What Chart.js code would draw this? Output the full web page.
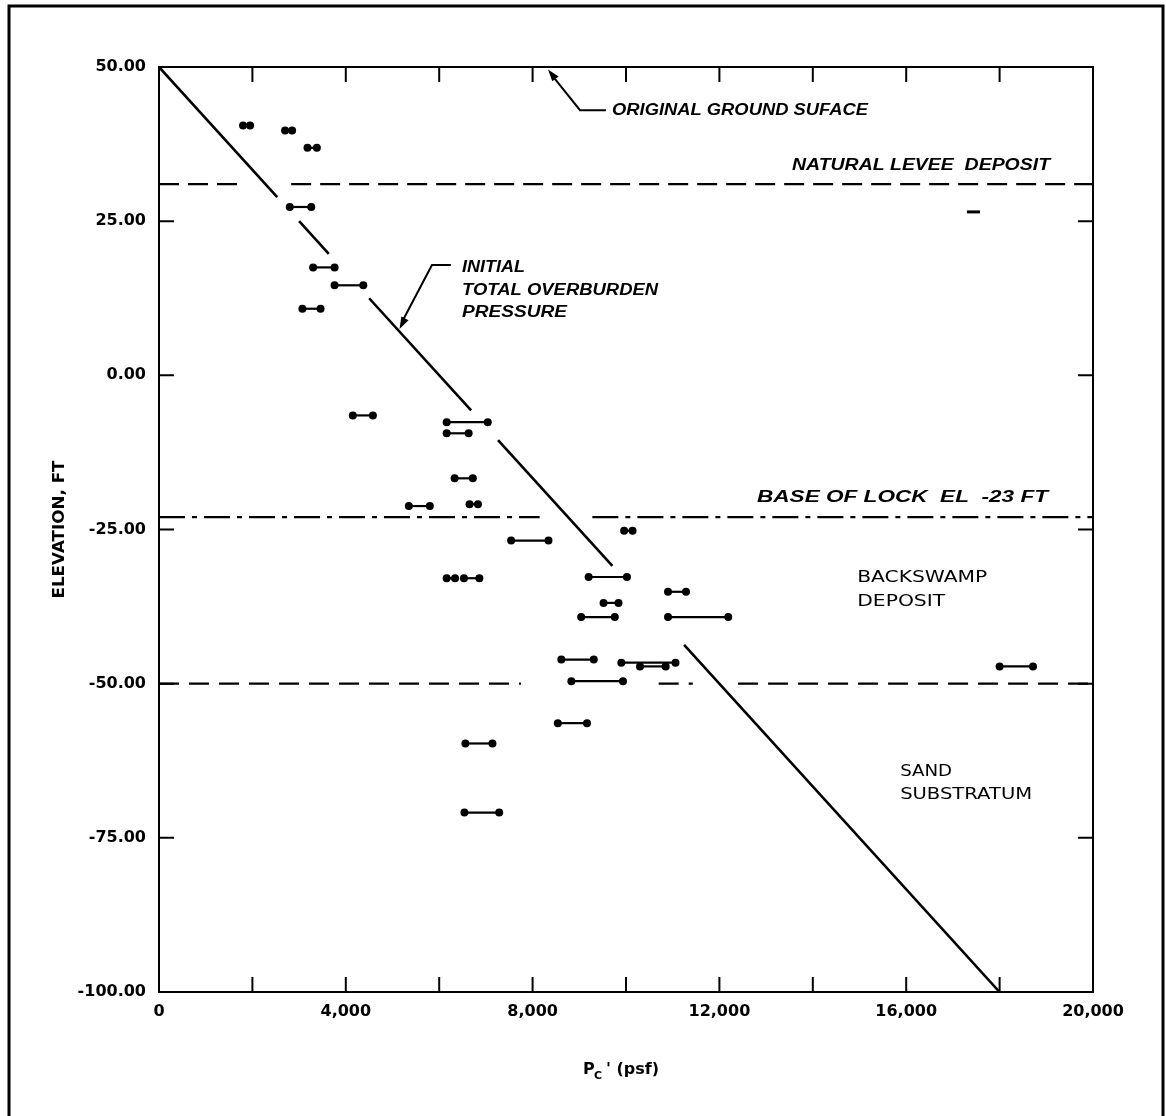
<!DOCTYPE html>
<html>
<head>
<meta charset="utf-8">
<title>Pc' vs elevation</title>
<script src="https://cdn.jsdelivr.net/npm/chart.js@4.4.1/dist/chart.umd.min.js"></script>
<style>
  html, body { margin: 0; padding: 0; background: #fff; }
  #chart { display: block; }
</style>
</head>
<body>
<canvas id="chart" width="1166" height="1116"></canvas>
<script>
// Sample ranges of Pc' (psf) at each elevation (ft)
const sampleElev = [40.5, 39.7, 36.9, 27.3, 17.5, 14.6, 10.8, -6.5, -7.6, -9.4,
  -16.7, -21.2, -20.9, -26.8, -25.2, -32.9, -32.9, -32.7, -35.1, -36.9,
  -39.2, -39.2, -46.1, -46.6, -47.2, -49.6, -47.2, -56.4, -59.7, -70.9];
const pcLow  = [1800, 2700, 3180, 2800, 3300, 3760, 3070, 4150, 6160, 6160,
  6330, 5350, 6650, 7540, 9960, 6160, 6530, 9200, 10900, 9520,
  9040, 10900, 8615, 9900, 10300, 8830, 18000, 8540, 6560, 6540];
const pcHigh = [1950, 2850, 3380, 3260, 3760, 4375, 3460, 4580, 7040, 6630,
  6720, 5800, 6830, 8340, 10140, 6340, 6860, 10020, 11285, 9840,
  9760, 12190, 9310, 11060, 10850, 9935, 18715, 9165, 7140, 7285];

// stray short mark near the right edge
const strayPc = [17300, 17580];
const strayElev = 26.5;

// Initial total overburden pressure line (end points) and the gaps in it
const overburdenPc = [0, 18000];
const overburdenElev = [50, -100];
const overburdenGaps = [[28.9, 25.0], [19.7, 12.5], [-5.7, -10.5], [-30.9, -43.7]];

// Stratum boundaries
const leveeElev = 31;
const leveeSpans = [[0, 1850], [2830, 20000]];
const lockElev = -23;
const lockSpans = [[0, 8150], [9280, 20000]];
const sandElev = -50;
const sandSpans = [[0, 7750], [10700, 11430], [12400, 20000]];

// Axes
const xTickLabels = [0, 4000, 8000, 12000, 16000, 20000];
const xTickMarks = [2000, 4000, 6000, 8000, 10000, 12000, 14000, 16000, 18000];
const yTickLabels = [50, 25, 0, -25, -50, -75, -100];

const datasets = [];

function lineSet(points, extra) {
  return Object.assign({
    data: points,
    showLine: true,
    borderColor: '#000',
    backgroundColor: '#000',
    borderWidth: 2,
    pointRadius: 0,
    pointHoverRadius: 0,
    tension: 0
  }, extra || {});
}

// samples
sampleElev.forEach((e, i) => {
  datasets.push(lineSet([{x: pcLow[i], y: e}, {x: pcHigh[i], y: e}], {
    borderWidth: 2.2, pointRadius: 4, pointBorderWidth: 0
  }));
});
datasets.push(lineSet([{x: strayPc[0], y: strayElev}, {x: strayPc[1], y: strayElev}], {borderWidth: 3}));

// overburden line, broken where the drawing leaves gaps
function pcOnLine(elev) {
  const t = (elev - overburdenElev[0]) / (overburdenElev[1] - overburdenElev[0]);
  return overburdenPc[0] + t * (overburdenPc[1] - overburdenPc[0]);
}
let start = overburdenElev[0];
overburdenGaps.concat([[overburdenElev[1], null]]).forEach(g => {
  datasets.push(lineSet([{x: pcOnLine(start), y: start}, {x: pcOnLine(g[0]), y: g[0]}], {borderWidth: 2.6}));
  start = g[1];
});

// boundaries
leveeSpans.forEach(s => datasets.push(lineSet([{x: s[0], y: leveeElev}, {x: s[1], y: leveeElev}],
  {borderWidth: 2.4, borderDash: [20, 9]})));
lockSpans.forEach(s => datasets.push(lineSet([{x: s[0], y: lockElev}, {x: s[1], y: lockElev}],
  {borderWidth: 2.4, borderDash: [26, 7, 5, 7]})));
sandSpans.forEach(s => datasets.push(lineSet([{x: s[0], y: sandElev}, {x: s[1], y: sandElev}],
  {borderWidth: 2.4, borderDash: [20, 10]})));

function fitText(ctx, text, x, y, width, font) {
  ctx.font = font;
  const w = ctx.measureText(text).width;
  ctx.save();
  ctx.translate(x, y);
  ctx.scale(width / w, 1);
  ctx.textAlign = 'left';
  ctx.textBaseline = 'middle';
  ctx.fillText(text, 0, 0);
  ctx.restore();
}

function arrowHead(ctx, fromX, fromY, toX, toY) {
  const ang = Math.atan2(toY - fromY, toX - fromX);
  const len = 12, wid = 4;
  ctx.beginPath();
  ctx.moveTo(toX, toY);
  ctx.lineTo(toX - len * Math.cos(ang) + wid * Math.sin(ang), toY - len * Math.sin(ang) - wid * Math.cos(ang));
  ctx.lineTo(toX - len * Math.cos(ang) - wid * Math.sin(ang), toY - len * Math.sin(ang) + wid * Math.cos(ang));
  ctx.closePath();
  ctx.fill();
}

const decorations = {
  id: 'decorations',
  afterDraw(chart) {
    const ctx = chart.ctx;
    const a = chart.chartArea;
    const xs = chart.scales.x, ys = chart.scales.y;
    const X = v => xs.getPixelForValue(v);
    const Y = v => ys.getPixelForValue(v);
    ctx.save();
    ctx.strokeStyle = '#000';
    ctx.fillStyle = '#000';

    // outer sheet frame
    ctx.lineWidth = 3;
    ctx.beginPath();
    ctx.moveTo(9, 1116);
    ctx.lineTo(9, 6);
    ctx.lineTo(1163, 6);
    ctx.lineTo(1163, 1116);
    ctx.stroke();

    // plot frame and inward ticks
    ctx.lineWidth = 2;
    ctx.strokeRect(a.left, a.top, a.right - a.left, a.bottom - a.top);
    ctx.beginPath();
    xTickMarks.forEach(v => {
      const px = X(v);
      ctx.moveTo(px, a.bottom); ctx.lineTo(px, a.bottom - 15);
      ctx.moveTo(px, a.top); ctx.lineTo(px, a.top + 15);
    });
    yTickLabels.forEach(v => {
      const py = Y(v);
      ctx.moveTo(a.left, py); ctx.lineTo(a.left + 15, py);
      ctx.moveTo(a.right, py); ctx.lineTo(a.right - 15, py);
    });
    ctx.stroke();

    // axis titles
    ctx.save();
    ctx.translate(60, (a.top + a.bottom) / 2);
    ctx.rotate(-Math.PI / 2);
    fitText(ctx, 'ELEVATION, FT', -69, 0, 138, 'bold 15px "DejaVu Sans"');
    ctx.restore();

    ctx.textBaseline = 'middle';
    ctx.textAlign = 'left';
    ctx.font = 'bold 16px "DejaVu Sans"';
    ctx.fillText('P', 583, 1070);
    ctx.font = 'bold 11px "DejaVu Sans"';
    ctx.fillText('C', 594, 1076);
    ctx.font = 'bold 16px "DejaVu Sans"';
    ctx.fillText("' (psf)", 606, 1070);

    // annotations
    const ital = 'bold italic 16px "Liberation Sans"';
    ctx.lineWidth = 2;
    ctx.beginPath();
    ctx.moveTo(X(9570), Y(43.0));
    ctx.lineTo(X(9015), Y(43.0));
    ctx.lineTo(X(8400), Y(48.8));
    ctx.stroke();
    arrowHead(ctx, X(9015), Y(43.0), X(8330), Y(49.6));
    fitText(ctx, 'ORIGINAL GROUND SUFACE', X(9700), Y(42.9), 256, ital);

    fitText(ctx, 'NATURAL LEVEE  DEPOSIT', X(13555), Y(34.0), 258, ital);

    ctx.beginPath();
    ctx.moveTo(X(6250), Y(17.9));
    ctx.lineTo(X(5845), Y(17.9));
    ctx.lineTo(X(5200), Y(8.6));
    ctx.stroke();
    arrowHead(ctx, X(5845), Y(17.9), X(5150), Y(7.5));
    fitText(ctx, 'INITIAL', X(6490), Y(17.4), 63, ital);
    fitText(ctx, 'TOTAL OVERBURDEN', X(6490), Y(13.8), 196, ital);
    fitText(ctx, 'PRESSURE', X(6490), Y(10.1), 105, ital);

    fitText(ctx, 'BASE OF LOCK  EL  -23 FT', X(12805), Y(-19.9), 291, ital);

    const plain = '16px "DejaVu Sans"';
    fitText(ctx, 'BACKSWAMP', X(14950), Y(-32.8), 130, plain);
    fitText(ctx, 'DEPOSIT', X(14950), Y(-36.7), 88, plain);
    fitText(ctx, 'SAND', X(15870), Y(-64.3), 52, plain);
    fitText(ctx, 'SUBSTRATUM', X(15870), Y(-68.0), 132, plain);

    ctx.restore();
  }
};

const tickFont = { family: 'DejaVu Sans', size: 16, weight: 'bold' };

const chart = new Chart(document.getElementById('chart'), {
  type: 'scatter',
  data: { datasets: datasets },
  options: {
    responsive: false,
    animation: false,
    events: [],
    layout: { padding: { left: 0, top: 67, right: 73, bottom: 0 } },
    plugins: { legend: { display: false }, tooltip: { enabled: false } },
    scales: {
      x: {
        type: 'linear',
        min: 0,
        max: 20000,
        afterFit: s => { s.height = 124; },
        afterBuildTicks: s => { s.ticks = xTickLabels.map(v => ({ value: v })); },
        grid: { display: false, drawTicks: false },
        border: { display: false },
        ticks: {
          autoSkip: false,
          maxRotation: 0,
          padding: 10,
          color: '#000',
          font: tickFont,
          callback: v => v.toLocaleString('en-US')
        }
      },
      y: {
        type: 'linear',
        min: -100,
        max: 50,
        afterFit: s => { s.width = 159; },
        afterBuildTicks: s => { s.ticks = yTickLabels.map(v => ({ value: v })); },
        grid: { display: false, drawTicks: false },
        border: { display: false },
        ticks: {
          autoSkip: false,
          padding: 13,
          color: '#000',
          font: tickFont,
          callback: v => v.toFixed(2)
        }
      }
    }
  },
  plugins: [decorations]
});
</script>
</body>
</html>
